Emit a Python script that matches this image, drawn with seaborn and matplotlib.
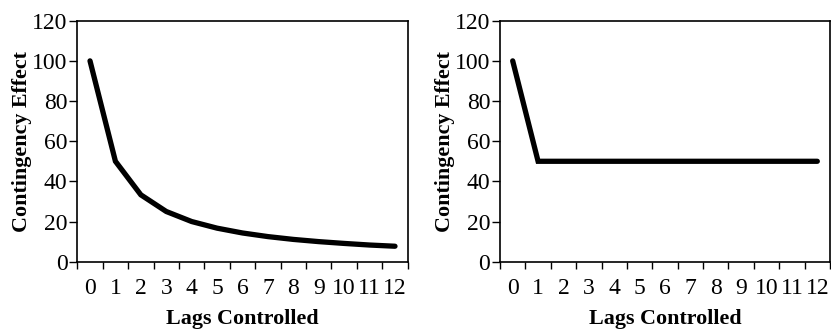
import matplotlib
matplotlib.use("Agg")
import matplotlib.pyplot as plt
import seaborn as sns
import pandas as pd
import numpy as np

lags = [0, 1, 2, 3, 4, 5, 6, 7, 8, 9, 10, 11, 12]
left_effect = [100, 50, 33.3, 25, 20, 16.7, 14.3, 12.5, 11.1, 10, 9.1, 8.3, 7.7]
right_effect = [100, 50, 50, 50, 50, 50, 50, 50, 50, 50, 50, 50, 50]
y_ticks = [0, 20, 40, 60, 80, 100, 120]
x_label = "Lags Controlled"
y_label = "Contingency Effect"

sns.set_theme(style="white")
plt.rcParams['font.family'] = ['Liberation Serif', 'DejaVu Serif']

fig = plt.figure(figsize=(8.31, 3.30), dpi=100)
W, H = 831, 330
axes_px = [(77.3, 20.7, 407.7, 261.7), (500.0, 20.7, 830.0, 261.7)]

for (x0, y0, x1, y1), vals in zip(axes_px, [left_effect, right_effect]):
    ax = fig.add_axes([x0 / W, 1 - y1 / H, (x1 - x0) / W, (y1 - y0) / H])
    df = pd.DataFrame({"lag": lags, "effect": vals})
    sns.lineplot(data=df, x="lag", y="effect", ax=ax, color="black", linewidth=3.8,
                 solid_capstyle="round", solid_joinstyle="miter")
    ax.set_xlim(-0.5, 12.5)
    ax.set_ylim(0, 120)
    ax.set_yticks(y_ticks)
    ax.set_xticks(lags)
    ax.set_xticklabels([str(l) for l in lags])
    ax.set_xticks(np.arange(-0.5, 13.0, 1.0), minor=True)
    ax.tick_params(axis="x", which="major", length=0, pad=12, labelsize=17, colors="black")
    ax.tick_params(axis="x", which="minor", length=5, width=1, color="black", bottom=True, direction="out")
    ax.tick_params(axis="y", which="major", length=6, width=1, color="black", left=True,
                   direction="out", labelsize=17, labelcolor="black", pad=1)
    for s in ax.spines.values():
        s.set_color("black")
        s.set_linewidth(1.2)
        s.set_visible(True)
    ax.set_xlabel(x_label, fontsize=15.8, fontweight="bold", color="black", labelpad=7)
    ax.set_ylabel(y_label, fontsize=15.8, fontweight="bold", color="black", labelpad=0)
    ax.grid(False)

fig.savefig("out.png", dpi=100)
